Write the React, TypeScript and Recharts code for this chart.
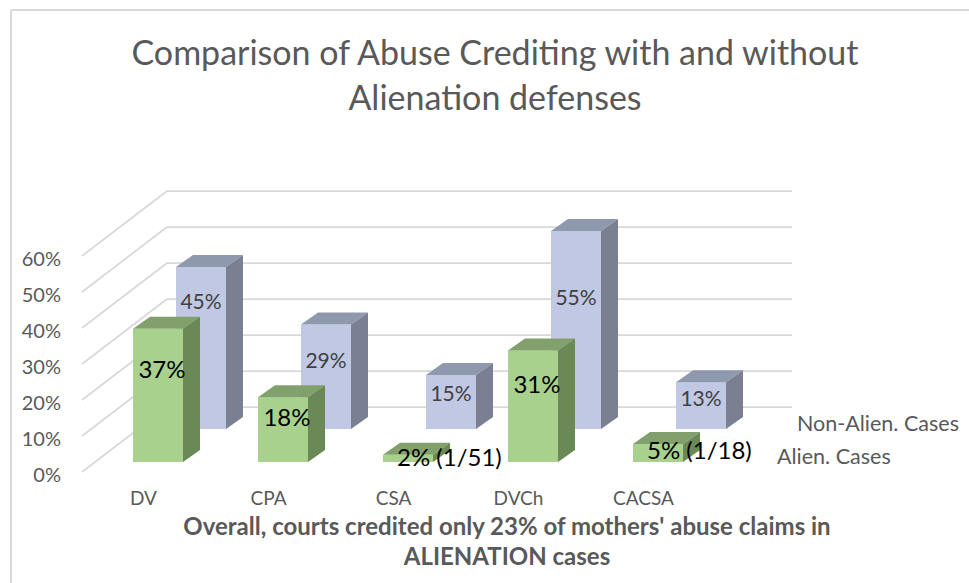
import { BarChart, Bar, XAxis, YAxis, CartesianGrid, Legend } from "recharts";

const categories = ["DV", "CPA", "CSA", "DVCh", "CACSA"];
const alienCases = [37, 18, 2, 31, 5];
const nonAlienCases = [45, 29, 15, 55, 13];
const alienNotes = ["", "", "(1/51)", "", "(1/18)"];
const yTicks = [0, 10, 20, 30, 40, 50, 60];

const titleLines = ["Comparison of Abuse Crediting with and without", "Alienation defenses"];
const captionLines = ["Overall, courts credited only 23% of mothers' abuse claims in", "ALIENATION cases"];

const data = categories.map((cat, i) => ({
  cat,
  alien: alienCases[i],
  nonAlien: nonAlienCases[i],
}));

const W = 969;
const H = 583;
const FONT = "Lato, 'Open Sans', sans-serif";
const GREY = "#595959";
const GRID = "#D9D9D9";

// fake 3D: box depth and how far the back row sits behind the front one
const DEPTH_X = 17;
const DEPTH_Y = -12;
const BACK_ROW_Y = -33;

const GREEN = { front: "#A9D18E", top: "#82A06B", side: "#6B8857" };
const BLUE = { front: "#C0C8E3", top: "#8F99AE", side: "#7A8092" };

function box(x: number, y: number, w: number, h: number, c: typeof GREEN) {
  return (
    <>
      <rect x={x} y={y} width={w} height={h} fill={c.front} />
      <polygon
        points={`${x},${y} ${x + DEPTH_X},${y + DEPTH_Y} ${x + w + DEPTH_X},${y + DEPTH_Y} ${x + w},${y}`}
        fill={c.top}
      />
      <polygon
        points={`${x + w},${y} ${x + w + DEPTH_X},${y + DEPTH_Y} ${x + w + DEPTH_X},${y + h + DEPTH_Y} ${x + w},${y + h}`}
        fill={c.side}
      />
    </>
  );
}

const BackBar = (p: any) => {
  const { x, y, width, height, index } = p;
  const top = y + BACK_ROW_Y;
  // keep the label above the green box standing in front of it
  const perUnit = height / nonAlienCases[index];
  const frontTop = y + height - alienCases[index] * perUnit + DEPTH_Y;
  const labelY = Math.min(top + height * 0.33, frontTop - 16);
  return (
    <g>
      {box(x, top, width, height, BLUE)}
      <text
        x={x + width / 2}
        y={labelY}
        textAnchor="middle"
        dominantBaseline="central"
        fontFamily={FONT}
        fontSize={21}
        fill="#404040"
      >
        {nonAlienCases[index]}%
      </text>
    </g>
  );
};

const FrontBar = (p: any) => {
  const { x, y, width, height, index } = p;
  const note = alienNotes[index];
  return (
    <g>
      {box(x, y, width, height, GREEN)}
      <text
        x={note ? x + 14 : x + width / 2 + 4}
        y={y + height * 0.3}
        textAnchor={note ? "start" : "middle"}
        dominantBaseline="central"
        fontFamily={FONT}
        fontSize={24}
        fill="#000000"
      >
        {alienCases[index]}%{note ? ` ${note}` : ""}
      </text>
    </g>
  );
};

const gridLine = (p: any) => {
  const { x1, x2, y1 } = p;
  return (
    <g key={p.key} stroke={GRID} strokeWidth={1.75}>
      <line x1={x1 - 35} y1={y1 + 10} x2={x1 + 50} y2={y1 - 55} />
      <line x1={x1 + 50} y1={y1 - 55} x2={x2 + 50} y2={y1 - 55} />
    </g>
  );
};

const YTick = (p: any) => (
  <text x={61} y={p.y + 12} textAnchor="end" dominantBaseline="central" fontFamily={FONT} fontSize={20} fill={GREY}>
    {p.payload.value}%
  </text>
);

const XTick = (p: any) => (
  <text x={p.x - 36} y={p.y + 35} textAnchor="middle" fontFamily={FONT} fontSize={19} fill={GREY}>
    {p.payload.value}
  </text>
);

const legendPos: Record<string, { left: number; top: number }> = {
  "Non-Alien. Cases": { left: 797, top: 410 },
  "Alien. Cases": { left: 777, top: 443 },
};

const SeriesNames = ({ payload }: any) => (
  <div style={{ position: "relative", width: W, height: H }}>
    {(payload || []).map((e: any) => (
      <div
        key={e.value}
        style={{
          position: "absolute",
          left: legendPos[e.value].left,
          top: legendPos[e.value].top,
          fontFamily: FONT,
          fontSize: 21.5,
          lineHeight: "26px",
          color: GREY,
          whiteSpace: "nowrap",
        }}
      >
        {e.value}
      </div>
    ))}
  </div>
);

export default function App() {
  return (
    <div style={{ position: "absolute", left: 0, top: 0, width: W, height: H, background: "#fff", overflow: "hidden" }}>
      <BarChart
        width={W}
        height={H}
        data={data}
        margin={{ top: 246, right: 227, bottom: 91, left: 57 }}
        barSize={50}
        barGap={-93}
      >
        <CartesianGrid vertical={false} horizontal={gridLine} />
        <XAxis dataKey="cat" axisLine={false} tickLine={false} height={30} tick={XTick} interval={0} />
        <YAxis domain={[0, 60]} ticks={yTicks} axisLine={false} tickLine={false} width={60} tick={YTick} />
        <Bar dataKey="nonAlien" name="Non-Alien. Cases" fill={BLUE.front} shape={BackBar} isAnimationActive={false} />
        <Bar dataKey="alien" name="Alien. Cases" fill={GREEN.front} shape={FrontBar} isAnimationActive={false} />
        <Legend
          layout="vertical"
          align="center"
          verticalAlign="middle"
          wrapperStyle={{ position: "absolute", left: 0, top: 0, width: W, height: H, pointerEvents: "none" }}
          content={SeriesNames}
        />
      </BarChart>
      <svg width={W} height={H} style={{ position: "absolute", left: 0, top: 0, pointerEvents: "none" }}>
        <line x1={11} y1={10} x2={W} y2={10} stroke={GRID} strokeWidth={2} />
        <line x1={11} y1={10} x2={11} y2={H} stroke={GRID} strokeWidth={2} />
        {titleLines.map((t, i) => (
          <text key={t} x={495} y={65 + i * 45} textAnchor="middle" fontFamily={FONT} fontSize={34} fill={GREY}>
            {t}
          </text>
        ))}
        {captionLines.map((t, i) => (
          <text key={t} x={507} y={535 + i * 30} textAnchor="middle" fontFamily={FONT} fontWeight="bold" fontSize={24} fill={GREY}>
            {t}
          </text>
        ))}
      </svg>
    </div>
  );
}
